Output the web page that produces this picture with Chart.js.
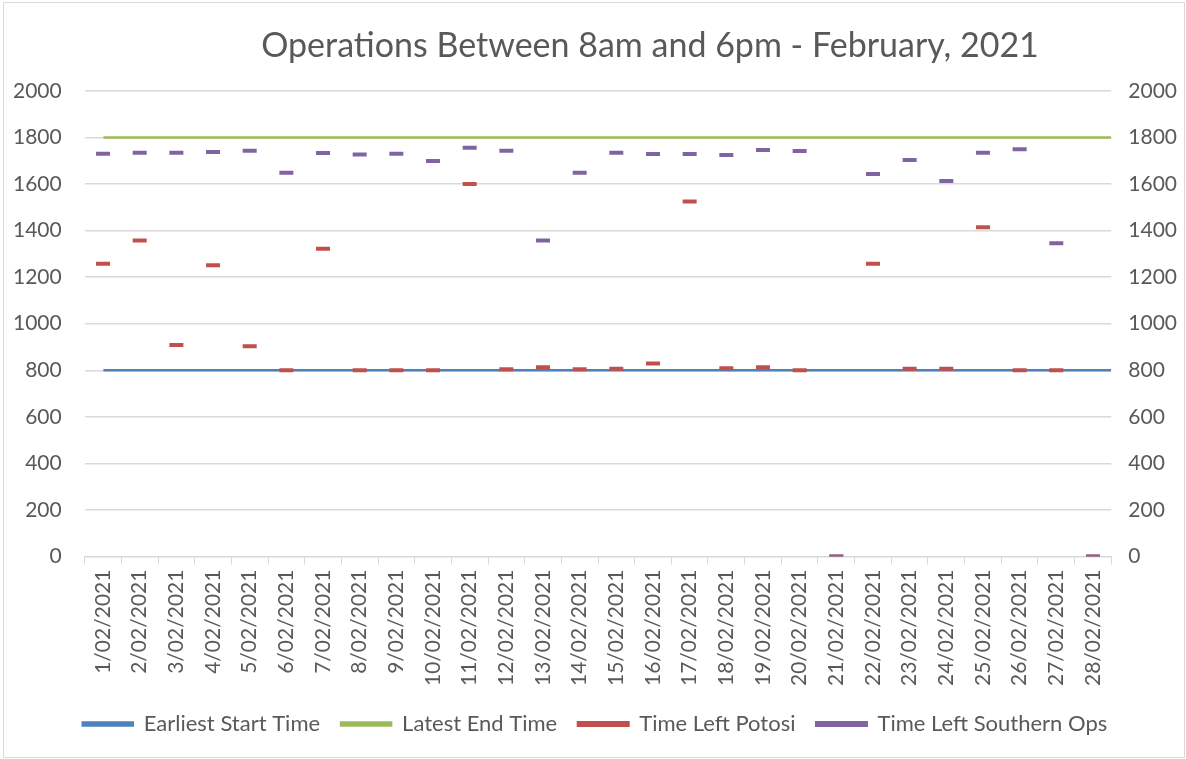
<!DOCTYPE html>
<html>
<head>
<meta charset="utf-8">
<script src="https://cdn.jsdelivr.net/npm/chart.js@4"></script>
<style>
  body { margin: 0; background: #fff; }
  #marco { position: absolute; left: 3px; top: 2px; width: 1180px; height: 754px; border: 1px solid #D9D9D9; }
  #caja { position: absolute; left: 0; top: 0; width: 1186px; height: 759px; }
</style>
</head>
<body>
<div id="marco"></div>
<div id="caja"><canvas id="grafico"></canvas></div>
<script>
// Fechas del mes (eje X)
let fechas = ['1/02/2021', '2/02/2021', '3/02/2021', '4/02/2021', '5/02/2021', '6/02/2021', '7/02/2021',
  '8/02/2021', '9/02/2021', '10/02/2021', '11/02/2021', '12/02/2021', '13/02/2021', '14/02/2021',
  '15/02/2021', '16/02/2021', '17/02/2021', '18/02/2021', '19/02/2021', '20/02/2021', '21/02/2021',
  '22/02/2021', '23/02/2021', '24/02/2021', '25/02/2021', '26/02/2021', '27/02/2021', '28/02/2021'];

// Hora de inicio mas temprana y hora de fin mas tardia
let inicioTemprano = [800, 800, 800, 800, 800, 800, 800, 800, 800, 800, 800, 800, 800, 800,
  800, 800, 800, 800, 800, 800, 800, 800, 800, 800, 800, 800, 800, 800];
let finTardio = [1800, 1800, 1800, 1800, 1800, 1800, 1800, 1800, 1800, 1800, 1800, 1800, 1800, 1800,
  1800, 1800, 1800, 1800, 1800, 1800, 1800, 1800, 1800, 1800, 1800, 1800, 1800, 1800];

// Hora de salida de cada operacion
let salidaPotosi = [1257, 1357, 909, 1251, 903, 800, 1322, 800, 800, 800, 1600, 804, 813, 804,
  806, 829, 1525, 809, 813, 800, 0, 1257, 807, 807, 1414, 800, 800, 0];
let salidaSur = [1730, 1734, 1734, 1737, 1743, 1648, 1733, 1726, 1730, 1699, 1755, 1743, 1357, 1648,
  1734, 1729, 1729, 1724, 1746, 1742, 0, 1643, 1703, 1613, 1734, 1749, 1345, 0];

let ticksY = [0, 200, 400, 600, 800, 1000, 1200, 1400, 1600, 1800, 2000];

let gris = '#595959';
let fuente = { family: 'Lato', size: 21 };

// mueve el titulo un poco a la derecha, como en el original
let moverTitulo = {
  id: 'moverTitulo',
  afterLayout(chart) {
    chart.titleBlock.left += 110;
  }
};

// Chart.js reserva el padding dos veces, quitamos uno
let ajustarAncho = eje => { eje.width -= eje.options.ticks.padding; };

let grafico = document.getElementById('grafico').getContext('2d');

let diagrama = new Chart(grafico, {
  type: 'line',
  data: {
    labels: fechas,
    datasets: [{
      label: 'Earliest Start Time',
      data: inicioTemprano.map((v, i) => ({ x: i + 1, y: v })),
      xAxisID: 'xl',
      borderColor: '#4F81BD',
      backgroundColor: '#4F81BD',
      borderWidth: 2.5,
      pointRadius: 0,
      order: 2
    }, {
      label: 'Latest End Time',
      data: finTardio.map((v, i) => ({ x: i + 1, y: v })),
      xAxisID: 'xl',
      borderColor: '#9BBB59',
      backgroundColor: '#9BBB59',
      borderWidth: 2.5,
      pointRadius: 0,
      order: 2
    }, {
      label: 'Time Left Potosi',
      data: salidaPotosi,
      showLine: false,
      pointStyle: 'line',
      pointRadius: 7,
      pointHoverRadius: 7,
      pointBorderWidth: 4,
      borderColor: '#C0504D',
      backgroundColor: '#C0504D',
      order: 1
    }, {
      label: 'Time Left Southern Ops',
      data: salidaSur,
      showLine: false,
      pointStyle: 'line',
      pointRadius: 7,
      pointHoverRadius: 7,
      pointBorderWidth: 4,
      borderColor: '#8064A2',
      backgroundColor: '#8064A2',
      order: 0
    }]
  },
  options: {
    responsive: true,
    maintainAspectRatio: false,
    animation: false,
    layout: { padding: { top: 15, left: 13, right: 9, bottom: 14 } },
    plugins: {
      title: {
        display: true,
        text: 'Operations Between 8am and 6pm - February, 2021',
        color: gris,
        font: { family: 'Lato', size: 34, weight: 'normal' },
        padding: { top: 11, bottom: 24 }
      },
      legend: {
        position: 'bottom',
        labels: {
          color: gris,
          font: { family: 'Lato', size: 22 },
          boxWidth: 50,
          boxHeight: 3,
          padding: 21,
          sort: (a, b) => a.datasetIndex - b.datasetIndex
        }
      },
      tooltip: { enabled: false }
    },
    scales: {
      x: {
        type: 'category',
        offset: true,
        afterFit: eje => { eje.height += 1; },
        grid: { offset: true, drawOnChartArea: false, drawTicks: true, tickLength: 8, color: '#D9D9D9' },
        border: { color: '#D9D9D9' },
        ticks: { color: gris, font: fuente, minRotation: 90, maxRotation: 90, autoSkip: false, padding: 5 }
      },
      xl: {
        type: 'linear',
        display: false,
        min: 0.5,
        max: 28
      },
      y: {
        position: 'left',
        min: 0,
        max: 2000,
        afterBuildTicks: eje => { eje.ticks = ticksY.map(v => ({ value: v })); },
        afterFit: ajustarAncho,
        grid: { color: '#D9D9D9', lineWidth: 1.5, drawTicks: false },
        border: { display: false },
        ticks: { color: gris, font: fuente, padding: 23, callback: v => String(v) }
      },
      y1: {
        position: 'right',
        min: 0,
        max: 2000,
        afterBuildTicks: eje => { eje.ticks = ticksY.map(v => ({ value: v })); },
        afterFit: ajustarAncho,
        grid: { drawOnChartArea: false, drawTicks: false },
        border: { display: false },
        ticks: { color: gris, font: fuente, padding: 17, callback: v => String(v) }
      }
    }
  },
  plugins: [moverTitulo]
});
</script>
</body>
</html>
